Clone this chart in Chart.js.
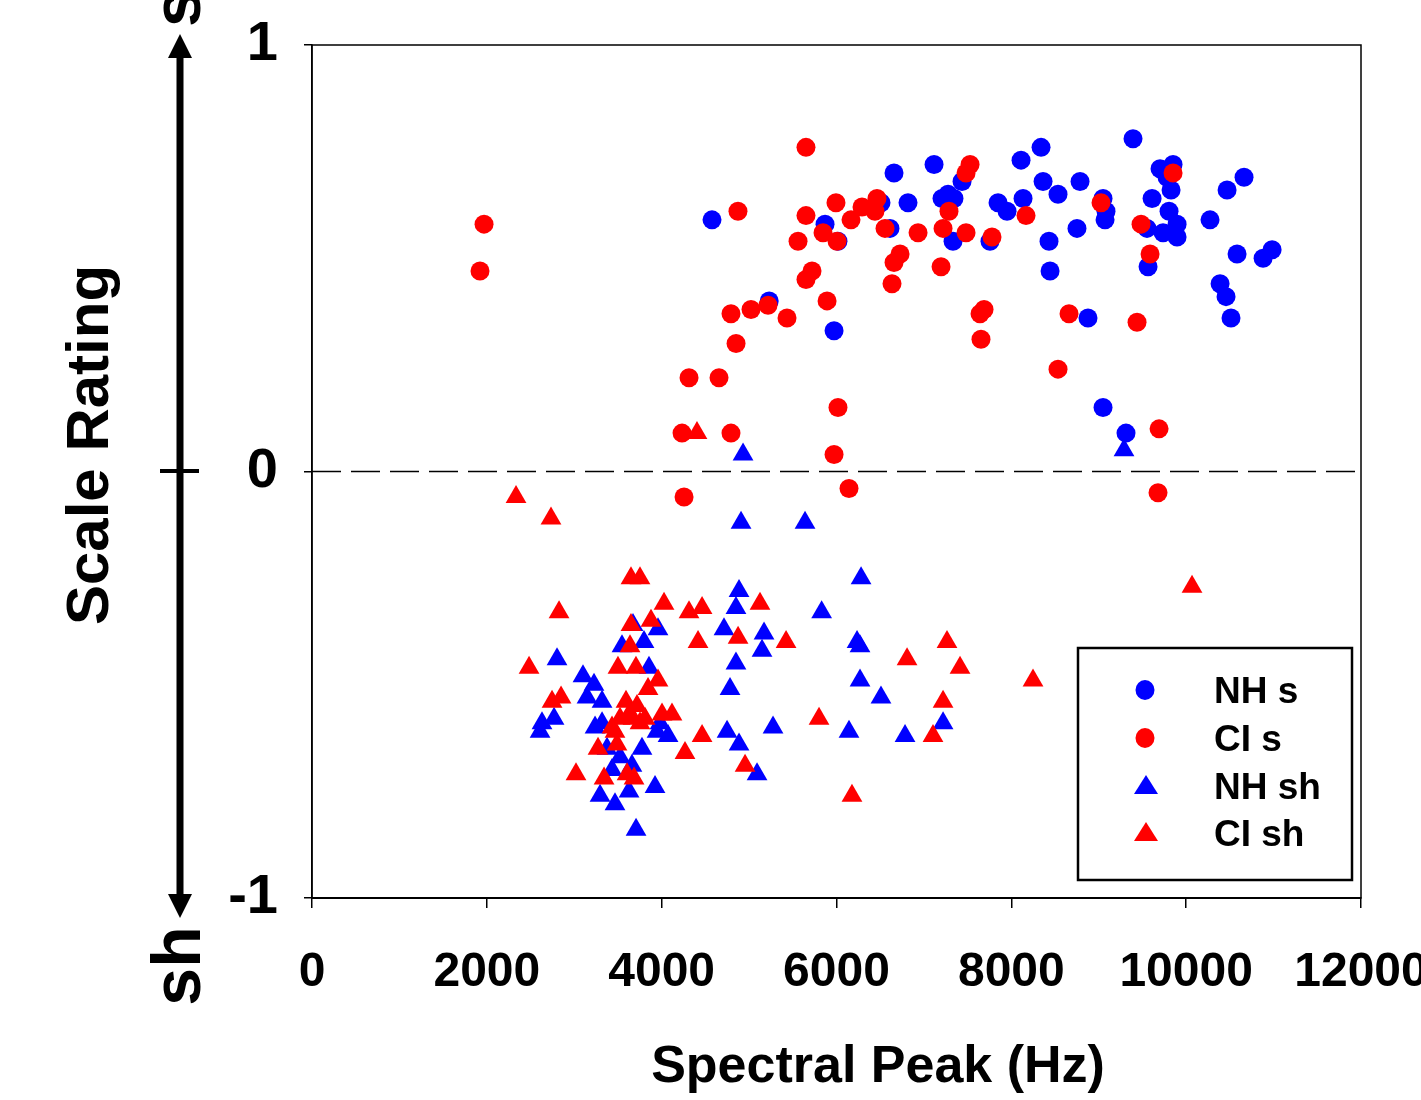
<!DOCTYPE html>
<html>
<head>
<meta charset="utf-8">
<script src="https://cdn.jsdelivr.net/npm/chart.js@4.4.1/dist/chart.umd.min.js"></script>
<style>
  html, body { margin: 0; padding: 0; background: #fff; }
  canvas { display: block; }
</style>
</head>
<body>
<canvas id="chart" width="1421" height="1100"></canvas>
<script>
// NH s  (blue circles)
const nhSHz = [4576, 5230, 5869, 5972, 6017, 6658, 6818, 6509, 6612, 7116, 7436, 7276, 7207, 7344, 7333,
  7756, 7848, 7951, 8111, 8134, 8340, 8363, 8534, 8786, 8431, 8443, 8751, 8877, 9392, 9049, 9083, 9072,
  9049, 9312, 9701, 9850, 9781, 9827, 9610, 9552, 9804, 9896, 9736, 9896, 9564, 10273, 10468, 10662,
  10582, 10880, 10983, 10388, 10456, 10513];
const nhSRating = [0.59, 0.40, 0.58, 0.33, 0.54, 0.70, 0.63, 0.63, 0.57, 0.72, 0.68, 0.65, 0.64, 0.64, 0.54,
  0.54, 0.63, 0.61, 0.73, 0.64, 0.76, 0.68, 0.65, 0.68, 0.54, 0.47, 0.57, 0.36, 0.78, 0.64, 0.61, 0.59,
  0.15, 0.09, 0.71, 0.72, 0.69, 0.66, 0.64, 0.57, 0.61, 0.58, 0.56, 0.55, 0.48, 0.59, 0.66, 0.69,
  0.51, 0.50, 0.52, 0.44, 0.41, 0.36];

// CI s  (red circles)
const ciSHz = [1968, 1922, 5651, 4873, 5994, 5651, 6292, 6166, 6463, 6440, 6555, 5846, 6006, 5560, 6933,
  6727, 6658, 6635, 5720, 5651, 5892, 5217, 5022, 4793, 5434, 4851, 4313, 4656, 6017, 4233, 4793, 5972,
  4256, 6143, 7219, 7482, 7287, 7482, 7528, 7196, 7779, 8168, 7642, 7688, 7653, 8660, 8534, 9026,
  9484, 9587, 9438, 9850, 9690, 9678];
const ciSRating = [0.58, 0.47, 0.76, 0.61, 0.63, 0.60, 0.62, 0.59, 0.64, 0.61, 0.57, 0.56, 0.54, 0.54, 0.56,
  0.51, 0.49, 0.44, 0.47, 0.45, 0.40, 0.39, 0.38, 0.37, 0.36, 0.30, 0.22, 0.22, 0.15, 0.09, 0.09, 0.04,
  -0.06, -0.04, 0.57, 0.56, 0.61, 0.70, 0.72, 0.48, 0.55, 0.60, 0.37, 0.38, 0.31, 0.37, 0.24, 0.63,
  0.58, 0.51, 0.35, 0.70, 0.10, -0.05];

// NH sh  (blue triangles)
const nhShHz = [4931, 9289, 4908, 5640, 6281, 4885, 4850, 4713, 5171, 5148, 5830, 3672, 3958, 3798, 3546,
  3855, 4850, 2803, 3100, 3226, 3146, 3318, 4782, 2631, 2769, 2609, 3238, 3318, 3981, 3947, 4073, 3775,
  4748, 4885, 5274, 5091, 3375, 3524, 3660, 3432, 3295, 3466, 3627, 3924, 3707, 6235, 6269, 6269,
  6509, 6143, 6784, 7219];
const nhShRating = [0.04, 0.05, -0.12, -0.12, -0.25, -0.28, -0.32, -0.37, -0.38, -0.42, -0.33, -0.36, -0.37, -0.40, -0.41,
  -0.46, -0.45, -0.44, -0.48, -0.50, -0.53, -0.54, -0.51, -0.59, -0.58, -0.61, -0.60, -0.59, -0.59, -0.61, -0.62, -0.65,
  -0.61, -0.64, -0.60, -0.71, -0.65, -0.67, -0.69, -0.70, -0.76, -0.78, -0.75, -0.74, -0.84, -0.40, -0.41, -0.49,
  -0.53, -0.61, -0.62, -0.59];

// CI sh  (red triangles)
const ciShHz = [2334, 2734, 4404, 2826, 2483, 10067, 8248, 6177, 3649, 3752, 4027, 4313, 4462, 5125, 3649,
  3878, 3638, 4416, 4874, 5423, 3500, 3706, 3958, 3844, 2746, 2849, 3592, 3718, 3627, 3810, 3672, 3524,
  3432, 3752, 4004, 4118, 3466, 4462, 3489, 3272, 4267, 4954, 3020, 3341, 3604, 3684, 5800, 7264,
  6807, 7413, 7219, 7104];
const ciShRating = [-0.06, -0.11, 0.09, -0.33, -0.46, -0.27, -0.49, -0.76, -0.25, -0.25, -0.31, -0.33, -0.32, -0.31, -0.36,
  -0.35, -0.41, -0.40, -0.39, -0.40, -0.46, -0.46, -0.49, -0.51, -0.54, -0.53, -0.54, -0.55, -0.57, -0.58, -0.58, -0.58,
  -0.60, -0.59, -0.57, -0.57, -0.61, -0.62, -0.64, -0.65, -0.66, -0.69, -0.71, -0.72, -0.71, -0.72, -0.58, -0.40,
  -0.44, -0.46, -0.54, -0.62];

// dashed reference line at 0
const zeroLineHz = [0, 12000];
const zeroLineRating = [0, 0];

const seriesLabels = ['NH s', 'CI s', 'NH sh', 'CI sh'];
const blue = '#0000ff';
const red = '#ff0000';

function toPoints(xs, ys) {
  return xs.map((x, i) => ({ x: x, y: ys[i] }));
}

// check if the narrow face is installed, otherwise use smaller regular sizes
function hasFont(name) {
  const c = document.createElement('canvas').getContext('2d');
  c.font = 'bold 40px monospace';
  const a = c.measureText('Scale Rating 2000').width;
  c.font = "bold 40px '" + name + "', monospace";
  const b = c.measureText('Scale Rating 2000').width;
  return a !== b;
}
const NARROW = hasFont('Liberation Sans Narrow');
const narrowFam = NARROW ? "'Liberation Sans Narrow', 'Liberation Sans', Arial" : "'Liberation Sans', Arial";
const yTitleSize = NARROW ? 72 : 60;
const xTitleSize = NARROW ? 62 : 52;
const xTickSize = NARROW ? 57 : 48;
const shSize = NARROW ? 78 : 68;

const decorPlugin = {
  id: 'decor',
  afterDraw(chart) {
    const { ctx, chartArea: a } = chart;
    ctx.save();

    // plot frame
    ctx.strokeStyle = '#000';
    ctx.lineWidth = 1.5;
    ctx.strokeRect(a.left, a.top, a.right - a.left, a.bottom - a.top);

    // double arrow s <-> sh
    ctx.fillStyle = '#000';
    ctx.strokeStyle = '#000';
    ctx.lineWidth = 7;
    ctx.beginPath();
    ctx.moveTo(180, 52);
    ctx.lineTo(180, 900);
    ctx.stroke();
    ctx.beginPath();
    ctx.moveTo(180, 34); ctx.lineTo(192, 58); ctx.lineTo(168, 58); ctx.closePath();
    ctx.fill();
    ctx.beginPath();
    ctx.moveTo(180, 918); ctx.lineTo(192, 894); ctx.lineTo(168, 894); ctx.closePath();
    ctx.fill();
    ctx.lineWidth = 4;
    ctx.beginPath();
    ctx.moveTo(160, 471);
    ctx.lineTo(199, 471);
    ctx.stroke();

    // rotated texts
    function vText(txt, x, y, font, base) {
      ctx.save();
      ctx.translate(x, y);
      ctx.rotate(-Math.PI / 2);
      ctx.font = font;
      ctx.textAlign = 'center';
      ctx.textBaseline = base;
      ctx.fillText(txt, 0, 0);
      ctx.restore();
    }
    vText('s', 200, 8, 'bold ' + shSize + 'px ' + narrowFam, 'alphabetic');
    vText('sh', 200, 966, 'bold ' + shSize + 'px ' + narrowFam, 'alphabetic');
    vText('Scale Rating', 91, 445, 'bold ' + yTitleSize + 'px ' + narrowFam, 'middle');

    // x title
    ctx.font = 'bold ' + xTitleSize + 'px ' + narrowFam;
    ctx.textAlign = 'center';
    ctx.textBaseline = 'middle';
    ctx.fillText('Spectral Peak (Hz)', 878, 1068);

    // legend
    const lx = 1078, ly = 648, lw = 274, lh = 232;
    ctx.fillStyle = '#fff';
    ctx.fillRect(lx, ly, lw, lh);
    ctx.strokeStyle = '#000';
    ctx.lineWidth = 2.5;
    ctx.strokeRect(lx, ly, lw, lh);
    const rows = [690, 738, 786, 833];
    chart.data.datasets.slice(0, 4).forEach((ds, i) => {
      const y = rows[i];
      ctx.fillStyle = ds.backgroundColor;
      ctx.beginPath();
      if (ds.pointStyle === 'circle') {
        ctx.ellipse(1145, y, 9.5, 10, 0, 0, Math.PI * 2);
      } else {
        ctx.moveTo(1146, y - 11);
        ctx.lineTo(1158, y + 8);
        ctx.lineTo(1134, y + 8);
        ctx.closePath();
      }
      ctx.fill();
      ctx.fillStyle = '#000';
      ctx.font = "bold 37px 'Liberation Sans', Arial";
      ctx.textAlign = 'left';
      ctx.textBaseline = 'middle';
      ctx.fillText(ds.label, 1214, y + 3);
    });

    ctx.restore();
  }
};

const ctx = document.getElementById('chart').getContext('2d');

const chart = new Chart(ctx, {
  type: 'scatter',
  data: {
    datasets: [
      {
        label: seriesLabels[0], data: toPoints(nhSHz, nhSRating), pointStyle: 'circle',
        pointRadius: 9.5, backgroundColor: blue, borderColor: blue, borderWidth: 0, order: 4
      },
      {
        label: seriesLabels[1], data: toPoints(ciSHz, ciSRating), pointStyle: 'circle',
        pointRadius: 9.5, backgroundColor: red, borderColor: red, borderWidth: 0, order: 3
      },
      {
        label: seriesLabels[2], data: toPoints(nhShHz, nhShRating), pointStyle: 'triangle',
        pointRadius: 12, backgroundColor: blue, borderColor: blue, borderWidth: 0, order: 2
      },
      {
        label: seriesLabels[3], data: toPoints(ciShHz, ciShRating), pointStyle: 'triangle',
        pointRadius: 12, backgroundColor: red, borderColor: red, borderWidth: 0, order: 1
      },
      {
        type: 'line', label: 'zero', data: toPoints(zeroLineHz, zeroLineRating),
        borderColor: '#000', borderWidth: 1.5, borderDash: [29, 10], pointRadius: 0, order: 5
      }
    ]
  },
  options: {
    responsive: false,
    animation: false,
    layout: { padding: { left: 0, top: 45, right: 60, bottom: 0 } },
    plugins: {
      legend: { display: false },
      tooltip: { enabled: false }
    },
    scales: {
      x: {
        type: 'linear', min: 0, max: 12000,
        ticks: {
          stepSize: 2000, autoSkip: false, maxRotation: 0, padding: 36, color: '#000',
          font: { family: narrowFam, size: xTickSize, weight: 'bold' },
          callback: v => String(v)
        },
        grid: { drawOnChartArea: false, tickLength: 10, color: '#000', lineWidth: 1.5 },
        border: { color: '#000', width: 2 },
        afterFit: axis => { axis.height = 202; axis.paddingLeft = 0; axis.paddingRight = 0; }
      },
      y: {
        type: 'linear', min: -1, max: 1,
        ticks: {
          stepSize: 1, padding: 26, color: '#000',
          font: { family: "'Liberation Sans', Arial", size: 56, weight: 'bold' },
          callback: v => String(v)
        },
        grid: { drawOnChartArea: false, tickLength: 8, color: '#000', lineWidth: 1.5 },
        border: { color: '#000', width: 1.5 },
        afterFit: axis => { axis.width = 312; axis.paddingTop = 0; axis.paddingBottom = 0; }
      }
    }
  },
  plugins: [decorPlugin]
});
</script>
</body>
</html>
